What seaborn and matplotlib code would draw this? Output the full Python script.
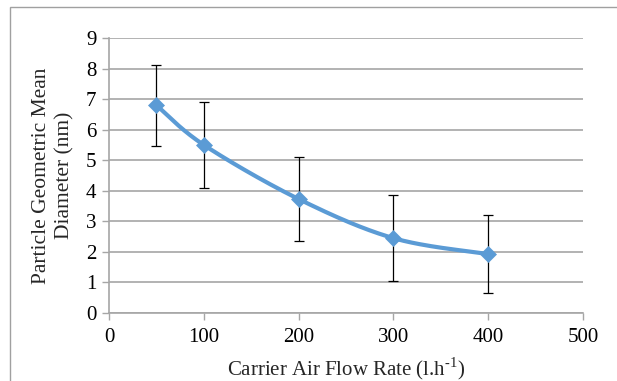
import numpy as np
import pandas as pd
import matplotlib
matplotlib.use("Agg")
import matplotlib.pyplot as plt
from matplotlib.patches import Rectangle
import seaborn as sns

# Measured data
flow_rate = [50, 100, 200, 300, 400]
mean_diameter = [6.8, 5.5, 3.73, 2.45, 1.93]
diameter_err = [1.33, 1.4, 1.38, 1.4, 1.28]
x_ticks = [0, 100, 200, 300, 400, 500]
y_ticks = [0, 1, 2, 3, 4, 5, 6, 7, 8, 9]

sns.set_theme(style="white")
plt.rcParams["font.family"] = ["Liberation Serif", "DejaVu Serif"]
plt.rcParams["mathtext.fontset"] = "custom"
plt.rcParams["mathtext.rm"] = "Liberation Serif"

BLUE = "#5B9BD5"
GRID = "#A6A6A6"


def smooth_curve(xs, ys, sx, sy, n=40):
    """Cardinal (Catmull-Rom style) Bezier smoothing through the points,
    evaluated in display-proportional space."""
    px = np.asarray(xs, float) * sx
    py = np.asarray(ys, float) * sy
    pts = np.column_stack([px, py])
    out = []
    for i in range(len(pts) - 1):
        p0 = pts[i - 1] if i > 0 else pts[i]
        p1 = pts[i]
        p2 = pts[i + 1]
        p3 = pts[i + 2] if i + 2 < len(pts) else pts[i + 1]
        c1 = p1 + (p2 - p0) / 6.0
        c2 = p2 - (p3 - p1) / 6.0
        t = np.linspace(0, 1, n)[:, None]
        seg = ((1 - t) ** 3) * p1 + 3 * ((1 - t) ** 2) * t * c1 + 3 * (1 - t) * t ** 2 * c2 + t ** 3 * p2
        out.append(seg if i == 0 else seg[1:])
    out = np.vstack(out)
    return out[:, 0] / sx, out[:, 1] / sy


fig = plt.figure(figsize=(6.17, 3.81), dpi=100)
fig.patches.append(Rectangle((10 / 617, -0.05), 1.2, 1 - 7 / 381 + 0.05,
                             transform=fig.transFigure, fill=False,
                             edgecolor="#A0A0A0", linewidth=1.0))
ax = fig.add_axes([109 / 617, 1 - 313 / 381, 474 / 617, 275 / 381])

cx, cy = smooth_curve(flow_rate, mean_diameter, 474 / 500, 275 / 9)
curve = pd.DataFrame({"flow": cx, "diam": cy})
points = pd.DataFrame({"flow": flow_rate, "diam": mean_diameter})

ax.errorbar(flow_rate, mean_diameter, yerr=diameter_err, fmt="none",
            ecolor="black", elinewidth=0.9, capsize=3.4, capthick=0.9, zorder=3)
sns.lineplot(data=curve, x="flow", y="diam", ax=ax, color=BLUE,
             linewidth=3.0, sort=False, zorder=4)
sns.scatterplot(data=points, x="flow", y="diam", ax=ax, marker="D", s=75,
                color=BLUE, edgecolor=BLUE, linewidth=0, zorder=5)

ax.set_xlim(0, 500)
ax.set_ylim(0, 9)
ax.set_xticks(x_ticks)
ax.set_yticks(y_ticks)
ax.grid(axis="y", color=GRID, linewidth=1.2)
ax.grid(axis="x", visible=False)
for side in ["top", "right"]:
    ax.spines[side].set_visible(False)
for side in ["left", "bottom"]:
    ax.spines[side].set_color(GRID)
    ax.spines[side].set_linewidth(1.2)
ax.tick_params(axis="both", direction="out", length=5, width=1.0,
               color=GRID, labelsize=15, labelcolor="black",
               left=True, bottom=True)
ax.tick_params(axis="y", pad=4)
ax.tick_params(axis="x", pad=6)

ax.set_xlabel(r"Carrier Air Flow Rate (l.h$^{\text{-}1}$)", fontsize=15, labelpad=6)
ax.set_ylabel("Particle Geometric Mean\nDiameter (nm)", fontsize=15.5,
              labelpad=8, linespacing=1.35)

fig.savefig("out.png", dpi=100)
